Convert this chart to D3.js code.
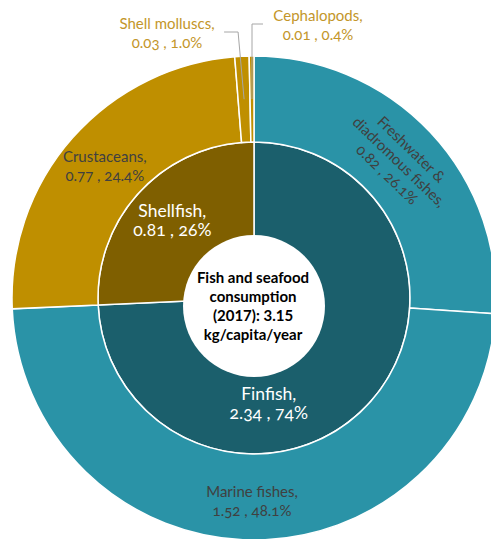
<!DOCTYPE html>
<html>
<head>
<meta charset="utf-8">
<script src="https://cdn.jsdelivr.net/npm/d3@7"></script>
<style>
  html, body { margin: 0; padding: 0; background: #fff; }
  svg { display: block; font-family: Lato, "Open Sans", sans-serif; font-variant-numeric: oldstyle-nums; }
  .centre { font-variant-numeric: lining-nums; }
</style>
</head>
<body>
<svg id="chart" width="491" height="539"></svg>
<script>
// Fish and seafood consumption (kg/capita/year), 2017
const groups = ["Finfish", "Shellfish"];
const groupShares = ["74%", "26%"];
const categories = ["Freshwater & diadromous fishes", "Marine fishes", "Crustaceans", "Shell molluscs", "Cephalopods"];
const categoryGroup = ["Finfish", "Finfish", "Shellfish", "Shellfish", "Shellfish"];
const categoryValues = [0.82, 1.52, 0.77, 0.03, 0.01];
const categoryShares = ["26.1%", "48.1%", "24.4%", "1.0%", "0.4%"];
const centreTitle = ["Fish and seafood", "consumption", "(2017): 3.15", "kg/capita/year"];

const fmt = d3.format(".2f");

// Colours per ring
const ringColour = {
  Finfish: { inner: "#1b5f6c", outer: "#2a93a7" },
  Shellfish: { inner: "#7f5f00", outer: "#bf8f00" }
};

// Build hierarchy: root -> groups -> categories
const rootData = {
  name: "total",
  children: groups.map((g, gi) => ({
    name: g,
    share: groupShares[gi],
    children: categories
      .map((c, i) => ({ name: c, value: categoryValues[i], share: categoryShares[i], group: categoryGroup[i] }))
      .filter(c => c.group === g)
  }))
};

const root = d3.hierarchy(rootData).sum(d => d.value || 0);
d3.partition().size([2 * Math.PI, 3])(root);

const cx = 254, cy = 298;
const radius = d3.scaleLinear().domain([1, 2, 3]).range([50, 156, 242]);

const arc = d3.arc()
  .startAngle(d => d.x0)
  .endAngle(d => d.x1)
  .innerRadius(d => radius(d.y0))
  .outerRadius(d => radius(d.y1));

const svg = d3.select("#chart");
const g = svg.append("g").attr("transform", `translate(${cx},${cy})`);

const nodes = root.descendants().filter(d => d.depth > 0);

g.selectAll("path.slice")
  .data(nodes)
  .join("path")
  .attr("class", "slice")
  .attr("d", arc)
  .attr("fill", d => {
    const grp = d.depth === 1 ? d.data.name : d.parent.data.name;
    return d.depth === 1 ? ringColour[grp].inner : ringColour[grp].outer;
  })
  .attr("stroke", "#fff")
  .attr("stroke-width", 1.5);

// polar helper: angle measured clockwise from 12 o'clock
const polar = (a, r) => [r * Math.sin(a), -r * Math.cos(a)];
const deg = Math.PI / 180;

const twoLine = n => [n.data.name + ",", fmt(n.value) + " , " + n.data.share];

// Label placement for each slice
const labelStyle = {
  "Finfish": { angle: 172 * deg, r: 106, size: 17.5, fill: "#fff", lines: twoLine },
  "Shellfish": { r: 113, size: 17.5, fill: "#fff", lines: twoLine },
  "Freshwater & diadromous fishes": { rotate: 44, size: 15, fill: "#404040", lh: 17.5,
               lines: n => ["Freshwater &", "diadromous fishes,", fmt(n.value) + " , " + n.data.share] },
  "Marine fishes": { size: 15, fill: "#404040", dy: 4, lines: twoLine },
  "Crustaceans": { size: 15, fill: "#404040", lines: twoLine },
  "Shell molluscs": { callout: [167, 33], tail: -14, size: 15, fill: "#c3962a", lines: twoLine },
  "Cephalopods": { callout: [318, 25], tail: 11, size: 15, fill: "#c3962a", lines: twoLine }
};

const labels = svg.append("g");

nodes.forEach(n => {
  const s = labelStyle[n.data.name];
  const mid = (n.x0 + n.x1) / 2;
  const rMid = (radius(n.y0) + radius(n.y1)) / 2;
  const lh = s.lh || 19;
  const lines = s.lines(n);
  let x, y;
  if (s.callout) {
    // leader from the slice centroid up to the label
    const [px, py] = polar(mid, rMid);
    const ax = cx + px, ay = cy + py;
    const by = s.callout[1] - 1;
    const bx = s.tail < 0 ? ax - 6 : ax;
    labels.append("polyline")
      .attr("points", [[ax, ay], [bx, by], [bx + s.tail, by]].map(p => p.join(",")).join(" "))
      .attr("fill", "none")
      .attr("stroke", "#a6a6a6")
      .attr("stroke-width", 1);
    x = s.callout[0];
    y = s.callout[1];
  } else {
    const a = s.angle !== undefined ? s.angle : mid;
    const r = s.r !== undefined ? s.r : rMid;
    const [px, py] = polar(a, r);
    x = cx + px;
    y = cy + py + (s.dy || 0);
  }
  const t = labels.append("text")
    .attr("transform", `translate(${x},${y})` + (s.rotate ? ` rotate(${s.rotate})` : ""))
    .attr("text-anchor", "middle")
    .attr("font-size", s.size)
    .attr("fill", s.fill);
  lines.forEach((line, i) => {
    t.append("tspan")
      .attr("x", 0)
      .attr("y", (i - (lines.length - 1) / 2) * lh)
      .attr("dy", "0.35em")
      .text(line);
  });
});

// Centre badge with the total
const badge = svg.append("g").attr("transform", `translate(${cx},${cy + 8})`);
badge.append("circle").attr("r", 71).attr("fill", "#fff");
const ct = badge.append("text")
  .attr("class", "centre")
  .attr("text-anchor", "middle")
  .attr("font-size", 15)
  .attr("font-weight", "bold")
  .attr("fill", "#000");
centreTitle.forEach((line, i) => {
  ct.append("tspan")
    .attr("x", -1)
    .attr("y", (i - (centreTitle.length - 1) / 2) * 19)
    .attr("dy", "0.35em")
    .text(line);
});
</script>
</body>
</html>
